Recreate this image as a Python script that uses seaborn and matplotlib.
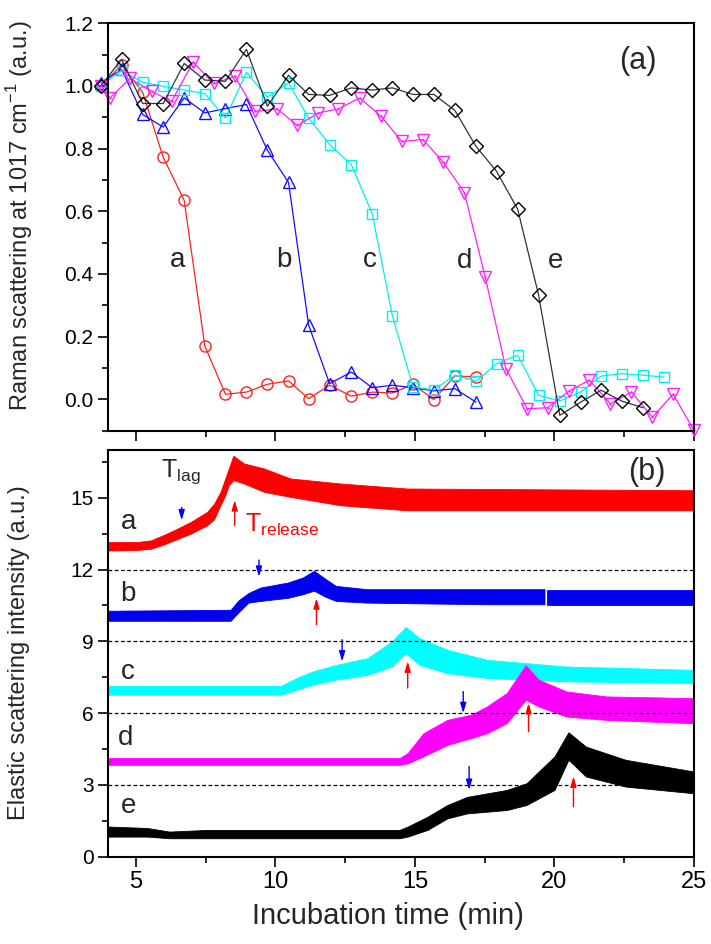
import numpy as np
import pandas as pd
import matplotlib
matplotlib.use("Agg")
import matplotlib.pyplot as plt
import seaborn as sns
from matplotlib.ticker import MultipleLocator, FormatStrFormatter

# ---------------- panel (a): Raman scattering ----------------
t_grid = [3.74, 4.49, 5.24, 5.98, 6.73, 7.47, 8.21, 8.96, 9.71, 10.47, 11.19, 11.94,
          12.72, 13.47, 14.19, 14.93, 15.68, 16.43, 17.19, 17.93, 18.68, 19.43,
          20.19, 20.94, 21.67, 22.42, 23.18, 23.93]
raman_a = [1.0, 1.067, 0.98, 0.772, 0.635, 0.17, 0.016, 0.023, 0.048, 0.059, 0.002,
           0.045, 0.01, 0.023, 0.02, 0.048, -0.001, 0.075, 0.071]
raman_b = [1.01, 1.053, 0.909, 0.869, 0.962, 0.914, 0.928, 0.941, 0.795, 0.692, 0.237,
           0.050, 0.087, 0.037, 0.045, 0.037, 0.027, 0.034, -0.009]
raman_c = [1.0, 1.05, 1.012, 0.999, 0.987, 0.976, 0.898, 1.044, 0.964, 1.01, 0.898,
           0.813, 0.749, 0.592, 0.267, 0.04, 0.03, 0.077, 0.058, 0.114, 0.141, 0.013,
           -0.005, 0.023, 0.074, 0.082, 0.077, 0.071]
t_d = [3.74, 4.07, 4.79, 5.56, 6.28, 7.05, 7.79, 8.54, 9.28, 10.06, 10.79, 11.54,
       12.26, 13.02, 13.79, 14.53, 15.29, 16.02, 16.77, 17.52, 18.26, 19.02, 19.75,
       20.53, 21.25, 22.0, 22.76, 23.51, 24.25, 25.0]
raman_d = [1.0, 0.962, 1.024, 0.983, 0.951, 1.076, 1.008, 1.031, 0.919, 0.927, 0.874,
           0.914, 0.927, 0.962, 0.903, 0.823, 0.829, 0.756, 0.660, 0.389, 0.098, -0.03,
           -0.027, 0.027, 0.061, -0.014, 0.023, -0.057, 0.016, -0.099]
raman_e = [1.0, 1.085, 0.944, 0.944, 1.072, 1.019, 1.015, 1.117, 0.935, 1.034, 0.973,
           0.970, 0.994, 0.987, 0.994, 0.973, 0.973, 0.922, 0.807, 0.727, 0.607, 0.333,
           -0.051, -0.009, 0.029, -0.006, -0.027]

series_names = ["a", "b", "c", "d", "e"]
series_colors = ["#ff2020", "#1010ff", "#00f0f0", "#ff20ff", "#000000"]
series_markers = ["o", "^", "s", "v", "D"]
label_x_a = [6.48, 10.3, 13.37, 16.77, 20.03]
label_y_a = [0.445, 0.445, 0.445, 0.44, 0.44]

# ---------------- panel (b): elastic scattering (band envelopes) ----------------
a_x = [4.0, 5.0, 5.53, 6.0, 6.36, 6.96, 7.55, 7.8, 8.03, 8.2, 8.33, 8.49, 8.87, 9.59,
       10.54, 12.33, 14.72, 25.0]
a_lo = [12.8, 12.82, 12.87, 13.05, 13.22, 13.5, 13.85, 14.1, 14.69, 15.1, 15.53, 15.74,
        15.6, 15.25, 15.04, 14.69, 14.48, 14.48]
a_hi = [13.15, 13.15, 13.22, 13.45, 13.64, 13.99, 14.41, 14.75, 15.25, 15.8, 16.23, 16.76,
        16.44, 16.23, 15.81, 15.6, 15.39, 15.32]

b_x = [4.0, 8.41, 8.7, 9.05, 9.48, 10.47, 11.0, 11.4, 11.8, 12.18, 13.3, 17.6, 19.66,
       19.70, 19.74, 24.7, 25.0]
b_lo = [9.84, 9.84, 10.2, 10.6, 10.67, 10.8, 10.95, 11.1, 10.85, 10.67, 10.6, 10.53,
        10.53, np.nan, 10.53, 10.53, 10.53]
b_hi = [10.26, 10.3, 10.7, 11.0, 11.23, 11.44, 11.65, 11.93, 11.6, 11.3, 11.16, 11.16,
        11.16, np.nan, 11.16, 11.16, 11.16]

c_x = [4.0, 10.2, 10.76, 11.33, 12.18, 13.3, 14.17, 14.67, 15.16, 16.16, 17.58, 20.42, 25.0]
c_lo = [6.77, 6.77, 6.98, 7.19, 7.4, 7.6, 7.95, 8.51, 8.02, 7.67, 7.47, 7.33, 7.26]
c_hi = [7.14, 7.14, 7.47, 7.74, 8.02, 8.3, 9.0, 9.6, 9.14, 8.65, 8.23, 7.95, 7.81]

d_x = [4.0, 14.45, 14.74, 15.3, 16.16, 17.0, 17.58, 18.29, 18.97, 19.43, 20.42, 21.84, 25.0]
d_lo = [3.84, 3.84, 3.9, 4.19, 4.67, 4.95, 5.16, 5.58, 6.56, 6.28, 5.86, 5.72, 5.58]
d_hi = [4.12, 4.12, 4.33, 5.16, 5.72, 5.93, 6.28, 6.84, 8.0, 7.4, 6.91, 6.7, 6.63]

e_x = [4.0, 5.4, 6.2, 7.6, 14.45, 14.74, 15.45, 16.16, 16.87, 18.29, 19.0, 20.0, 20.5,
       21.13, 22.55, 25.0]
e_lo = [0.84, 0.84, 0.77, 0.77, 0.77, 0.84, 1.12, 1.6, 1.81, 1.95, 2.16, 2.79, 4.05,
        3.35, 2.93, 2.65]
e_hi = [1.26, 1.2, 1.05, 1.12, 1.12, 1.26, 1.67, 2.16, 2.5, 2.79, 3.07, 4.19, 5.2,
        4.6, 4.05, 3.56]

band_colors = ["#ff0000", "#0000ee", "#00ffff", "#ff00ff", "#000000"]
trace_label_x = [4.72, 4.72, 4.72, 4.64, 4.72]
trace_label_y = [14.0, 11.0, 7.74, 4.95, 2.1]
dash_levels = [3, 6, 9, 12]

# lag / release arrows
tlag_x = [6.64, 9.41, 12.39, 16.73, 16.94]
tlag_top = [14.6, 12.4, 9.07, 6.9, 3.77]
tlag_bot = [14.06, 11.7, 8.16, 6.0, 2.79]
trel_x = [8.54, 11.47, 14.74, 19.07, 20.68]
trel_bot = [13.85, 9.7, 7.05, 5.23, 2.09]
trel_top = [14.9, 10.8, 8.16, 6.42, 3.35]

# ---------------- styling ----------------
sns.set_theme(style="ticks")
plt.rcParams["font.family"] = ["Liberation Sans", "DejaVu Sans"]
plt.rcParams.update({
    "axes.linewidth": 1.5,
    "xtick.direction": "out", "ytick.direction": "out",
    "xtick.major.size": 7, "ytick.major.size": 7,
    "xtick.minor.size": 4, "ytick.minor.size": 4,
    "xtick.major.width": 1.2, "ytick.major.width": 1.2,
    "xtick.minor.width": 1.2, "ytick.minor.width": 1.2,
    "xtick.labelsize": 17, "ytick.labelsize": 15,
    "xtick.color": "black", "ytick.color": "black",
    "axes.edgecolor": "black",
})

fig = plt.figure(figsize=(7.11, 9.44), dpi=100)
ax1 = fig.add_axes([0.1519, 0.5438, 0.8242, 0.4315])
ax2 = fig.add_axes([0.1519, 0.0925, 0.8242, 0.4308])

# panel (a)
xs_list = [t_grid[:len(raman_a)], t_grid[:len(raman_b)], t_grid[:len(raman_c)], t_d,
           t_grid[:len(raman_e)]]
ys_list = [raman_a, raman_b, raman_c, raman_d, raman_e]
msizes = [8, 8.5, 7, 8.5, 7]
for xs, ys, col, mk, ms in zip(xs_list, ys_list, series_colors, series_markers, msizes):
    df = pd.DataFrame({"t": xs, "v": ys})
    lc = "#333333" if col == "#000000" else col
    sns.lineplot(data=df, x="t", y="v", ax=ax1, color=lc, sort=False, estimator=None,
                 lw=0.9, marker=mk, markersize=ms, markerfacecolor="none",
                 markeredgecolor=col, markeredgewidth=1.0, clip_on=False)
# small centre dots in the down-triangles (Origin style)
ax1.plot(t_d, raman_d, ls="none", marker=".", markersize=1.5, color=series_colors[3],
         clip_on=False)
for nm, lx, ly in zip(series_names, label_x_a, label_y_a):
    ax1.text(lx, ly, nm, fontsize=20, ha="center", va="center")
ax1.text(22.98, 1.08, "(a)", fontsize=22, ha="center", va="center")
ax1.set_xlim(4, 25)
ax1.set_ylim(-0.1, 1.2)
ax1.yaxis.set_major_locator(MultipleLocator(0.2))
ax1.yaxis.set_minor_locator(MultipleLocator(0.1))
ax1.yaxis.set_major_formatter(FormatStrFormatter("%.1f"))
ax1.xaxis.set_major_locator(MultipleLocator(5))
ax1.xaxis.set_minor_locator(MultipleLocator(2.5))
ax1.tick_params(axis="x", labelbottom=False)
ax1.set_xlabel("")
ax1.set_ylabel("")

# panel (b)
band_x = [a_x, b_x, c_x, d_x, e_x]
band_lo = [a_lo, b_lo, c_lo, d_lo, e_lo]
band_hi = [a_hi, b_hi, c_hi, d_hi, e_hi]
for bx, lo, hi, col in zip(band_x, band_lo, band_hi, band_colors):
    ax2.fill_between(bx, lo, hi, color=col, lw=0.6, edgecolor=col, zorder=2)
for lvl in dash_levels:
    ax2.axhline(lvl, color="black", lw=0.9, ls=(0, (3, 2)), zorder=3)
for nm, lx, ly in zip(series_names, trace_label_x, trace_label_y):
    ax2.text(lx, ly, nm, fontsize=20, ha="center", va="center")
for x, y0, y1 in zip(tlag_x, tlag_top, tlag_bot):
    ax2.annotate("", xy=(x, y1), xytext=(x, y0),
                 arrowprops=dict(arrowstyle="-|>,head_length=0.5,head_width=0.15",
                                 color="#0000ff", lw=1.0, shrinkA=0, shrinkB=0), zorder=4)
for x, y0, y1 in zip(trel_x, trel_bot, trel_top):
    ax2.annotate("", xy=(x, y1), xytext=(x, y0),
                 arrowprops=dict(arrowstyle="-|>,head_length=0.5,head_width=0.15",
                                 color="#ff0000", lw=1.0, shrinkA=0, shrinkB=0), zorder=4)
ax2.text(6.6, 16.1, r"T$_{\mathregular{lag}}$", fontsize=18, ha="center", va="center")
ax2.text(8.9, 13.85, r"T$_{\mathregular{release}}$", fontsize=18, ha="left", va="center",
         color="#ff0000")
ax2.text(23.3, 16.1, "(b)", fontsize=22, ha="center", va="center")
ax2.set_xlim(4, 25)
ax2.set_ylim(0, 17)
ax2.yaxis.set_major_locator(MultipleLocator(3))
ax2.yaxis.set_minor_locator(MultipleLocator(1.5))
ax2.xaxis.set_major_locator(MultipleLocator(5))
ax2.xaxis.set_minor_locator(MultipleLocator(2.5))
ax2.set_xlabel("")
ax2.set_ylabel("")

for ax in (ax1, ax2):
    for s in ax.spines.values():
        s.set_visible(True)
        s.set_linewidth(1.5)

narrow = ["Liberation Sans Narrow", "Liberation Sans", "DejaVu Sans"]
fig.text(0.545, 0.030, "Incubation time (min)", fontsize=21, ha="center", va="center")
fig.text(0.027, 0.772, r"Raman scattering at 1017 cm$^{\mathregular{-1}}$ (a.u.)", rotation=90,
         fontsize=17, ha="center", va="center", family=narrow)
fig.text(0.027, 0.309, "Elastic scattering intensity (a.u.)", rotation=90,
         fontsize=17, ha="center", va="center", family=narrow)

fig.savefig("out.png", dpi=100)
